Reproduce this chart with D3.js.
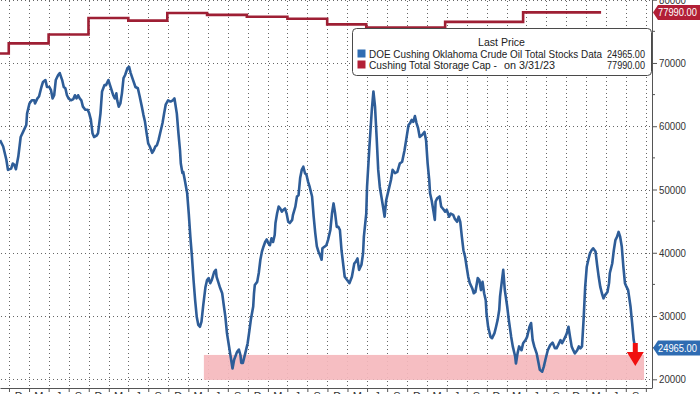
<!DOCTYPE html>
<html>
<head>
<meta charset="utf-8">
<script src="https://cdn.jsdelivr.net/npm/d3@7"></script>
<style>
  html, body { margin: 0; padding: 0; background: #fff; }
  svg { display: block; font-family: 'Liberation Sans', Arial, sans-serif; }
</style>
</head>
<body>
<svg id="chart" width="700" height="394"></svg>
<script>
// DOE Cushing stocks (thousand bbl), weekly-ish, dates as decimal years
var stockDates = [
  2015.72, 2015.76, 2015.80, 2015.82, 2015.86, 2015.88, 2015.90, 2015.92, 2015.95, 2015.98,
  2016.01, 2016.05, 2016.06, 2016.09, 2016.12, 2016.15, 2016.16, 2016.19, 2016.21, 2016.24,
  2016.26, 2016.29, 2016.31, 2016.34, 2016.36, 2016.38, 2016.40, 2016.42, 2016.45, 2016.47,
  2016.50, 2016.52, 2016.54, 2016.56, 2016.58, 2016.61, 2016.64, 2016.66, 2016.68, 2016.70,
  2016.72, 2016.74, 2016.76, 2016.79, 2016.82, 2016.84, 2016.86, 2016.88, 2016.90, 2016.93,
  2016.95, 2016.98, 2017.00, 2017.03, 2017.05, 2017.08, 2017.10, 2017.12, 2017.14, 2017.16,
  2017.18, 2017.19, 2017.21, 2017.23, 2017.25, 2017.27, 2017.29, 2017.32, 2017.34, 2017.36,
  2017.39, 2017.42, 2017.45, 2017.47, 2017.50, 2017.52, 2017.54, 2017.56, 2017.58, 2017.60,
  2017.63, 2017.65, 2017.67, 2017.69, 2017.71, 2017.73, 2017.76, 2017.78, 2017.80, 2017.83,
  2017.86, 2017.89, 2017.91, 2017.92, 2017.94, 2017.96, 2017.98, 2017.99, 2018.01, 2018.02,
  2018.04, 2018.07, 2018.09, 2018.11, 2018.13, 2018.15, 2018.17, 2018.19, 2018.21, 2018.23,
  2018.25, 2018.27, 2018.30, 2018.32, 2018.34, 2018.36, 2018.38, 2018.41, 2018.43, 2018.44,
  2018.46, 2018.48, 2018.51, 2018.53, 2018.55, 2018.57, 2018.59, 2018.61, 2018.63, 2018.64,
  2018.66, 2018.69, 2018.70, 2018.72, 2018.74, 2018.75, 2018.77, 2018.80, 2018.83, 2018.85,
  2018.87, 2018.90, 2018.91, 2018.92, 2018.95, 2018.97, 2018.99, 2019.01, 2019.03, 2019.05,
  2019.07, 2019.09, 2019.11, 2019.13, 2019.15, 2019.17, 2019.18, 2019.20, 2019.22, 2019.24,
  2019.26, 2019.28, 2019.30, 2019.32, 2019.34, 2019.36, 2019.39, 2019.40, 2019.43, 2019.45,
  2019.47, 2019.49, 2019.51, 2019.53, 2019.55, 2019.57, 2019.59, 2019.61, 2019.64, 2019.66,
  2019.68, 2019.70, 2019.72, 2019.74, 2019.76, 2019.77, 2019.80, 2019.82, 2019.84, 2019.87,
  2019.89, 2019.91, 2019.93, 2019.95, 2019.97, 2019.99, 2020.01, 2020.03, 2020.05, 2020.08,
  2020.11, 2020.14, 2020.17, 2020.19, 2020.21, 2020.23, 2020.26, 2020.28, 2020.29, 2020.32,
  2020.33, 2020.36, 2020.39, 2020.41, 2020.43, 2020.45, 2020.47, 2020.49, 2020.53, 2020.55,
  2020.57, 2020.60, 2020.63, 2020.65, 2020.68, 2020.71, 2020.74, 2020.77, 2020.80, 2020.82,
  2020.85, 2020.87, 2020.89, 2020.91, 2020.93, 2020.95, 2020.97, 2020.99, 2021.02, 2021.05,
  2021.07, 2021.09, 2021.11, 2021.12, 2021.14, 2021.16, 2021.18, 2021.19, 2021.21, 2021.24,
  2021.26, 2021.28, 2021.31, 2021.33, 2021.36, 2021.38, 2021.41, 2021.43, 2021.46, 2021.48,
  2021.50, 2021.52, 2021.54, 2021.56, 2021.58, 2021.60, 2021.62, 2021.65, 2021.67, 2021.69,
  2021.72, 2021.74, 2021.76, 2021.78, 2021.80, 2021.82, 2021.83, 2021.85, 2021.88, 2021.90,
  2021.93, 2021.95, 2021.97, 2021.99, 2022.00, 2022.02, 2022.04, 2022.06, 2022.09, 2022.11,
  2022.14, 2022.16, 2022.19, 2022.20, 2022.22, 2022.24, 2022.27, 2022.29, 2022.32, 2022.34,
  2022.37, 2022.39, 2022.41, 2022.43, 2022.46, 2022.48, 2022.50, 2022.53, 2022.55, 2022.57,
  2022.60, 2022.63, 2022.66, 2022.69, 2022.71, 2022.73, 2022.76, 2022.78, 2022.80, 2022.82,
  2022.84, 2022.86, 2022.88, 2022.90, 2022.92, 2022.94, 2022.97, 2022.99, 2023.01, 2023.03,
  2023.05, 2023.07, 2023.09, 2023.11, 2023.13, 2023.15, 2023.17, 2023.20, 2023.22, 2023.24,
  2023.26, 2023.28, 2023.30, 2023.32, 2023.35, 2023.37, 2023.38, 2023.41, 2023.43, 2023.45,
  2023.47, 2023.49, 2023.51, 2023.53, 2023.55, 2023.57, 2023.59, 2023.61, 2023.64, 2023.66,
  2023.68, 2023.70
]
var stockValues = [
  57800, 56800, 54700, 53100, 53300, 54100, 53900, 53200, 55200, 58300,
  59100, 60200, 62000, 63600, 64100, 64100, 63600, 64400, 64700, 66200,
  67000, 67300, 66200, 66200, 65700, 64400, 64900, 67300, 68100, 68400,
  67300, 66200, 66000, 64900, 64400, 64100, 64300, 64900, 64400, 64900,
  64400, 64100, 63100, 62600, 62600, 62000, 61000, 58900, 58300, 58500,
  58900, 62000, 65500, 66500, 66500, 67300, 66500, 65700, 64900, 64400,
  65200, 64100, 63100, 63600, 65200, 67600, 68100, 69200, 69400, 68400,
  67300, 66200, 66000, 64900, 63100, 61800, 60700, 58900, 57300, 56800,
  55800, 56200, 56800, 57000, 57800, 58900, 60500, 62000, 63400, 64100,
  63900, 64100, 64400, 63600, 62000, 58900, 56200, 54100, 52600, 52800,
  51500, 49400, 46200, 42500, 39400, 35700, 32500, 29900, 28600, 28300,
  29100, 31500, 34600, 35700, 36000, 35200, 35700, 37000, 37300, 36200,
  35400, 34600, 33600, 31700, 29900, 27300, 25700, 24100, 22500, 21700,
  23100, 24100, 24400, 24700, 23800, 22600, 22600, 24100, 25700, 27500,
  29400, 31500, 33600, 34900, 35400, 36800, 38900, 40200, 41000, 41700,
  42100, 41500, 41200, 42300, 41700, 42800, 44700, 46200, 47300, 47000,
  46500, 46800, 47000, 46200, 44900, 44700, 45200, 46000, 47300, 48900,
  49100, 51800, 53100, 53600, 52600, 52300, 51200, 50400, 48900, 45700,
  43100, 41000, 40200, 39600, 38900, 40700, 41000, 41200, 42000, 43600,
  46200, 47800, 46200, 44100, 44100, 43600, 40400, 38300, 36200, 35700,
  35200, 36200, 38300, 38600, 39100, 37300, 38100, 39900, 42500, 46200,
  50400, 56800, 62600, 65500, 63100, 58300, 53100, 50400, 47300, 45700,
  48300, 49900, 51500, 53100, 52600, 52800, 54100, 54400, 56200, 57800,
  60200, 60500, 61000, 60700, 61600, 60500, 59700, 58300, 58600, 59100,
  57800, 54100, 51500, 49400, 48300, 46800, 45200, 48100, 48600, 48900,
  47300, 47000, 46500, 46800, 45700, 46200, 46000, 45400, 44900, 45700,
  44900, 42500, 40400, 39400, 37800, 36200, 35200, 34400, 33600, 33800,
  36000, 35700, 34100, 35400, 33600, 32500, 30400, 28300, 26700, 26500,
  27300, 28300, 29400, 31000, 33100, 35200, 37300, 34100, 31500, 29400,
  26700, 25200, 23600, 22500, 24100, 25200, 24600, 25700, 26200, 26700,
  28300, 28900, 26200, 25200, 24100, 22800, 21500, 21200, 22000, 23100,
  24600, 25400, 25800, 24900, 24900, 25400, 26200, 25700, 26200, 26700,
  27300, 28300, 26700, 25200, 24600, 24100, 24600, 25200, 24900, 25200,
  29400, 34600, 37800, 38900, 39900, 40400, 40700, 40200, 38100, 36200,
  34600, 33600, 32800, 33300, 33800, 35200, 36800, 38300, 40400, 42000,
  42500, 43300, 42500, 41000, 37800, 35200, 34600, 34100, 31500, 28900,
  26200, 24965
]

// Cushing working storage capacity (step series), last point is the end of the line
var capDates = [2015.72, 2015.83, 2016.33, 2016.83, 2017.33, 2017.82, 2018.32, 2018.82,
  2019.33, 2019.83, 2020.32, 2021.31, 2022.29, 2023.27]
var capValues = [71500, 73100, 74500, 77100, 76700, 77900, 77600, 77300,
  77000, 76100, 75600, 76500, 77990, 77990]

// "near tank bottoms" zone
var zoneDates = [2018.28, 2023.81]
var zoneValues = [19900, 23850]

var yTicks = [20000, 30000, 40000, 50000, 60000, 70000, 80000]
var yMinorTicks = [25000, 35000, 45000, 55000, 65000, 75000]
var monthLetters = ['J', 'F', 'M', 'A', 'M', 'J', 'J', 'A', 'S', 'O', 'N', 'D']
var xStart = 2015.72, xEnd = 2023.91

var legendTitle = 'Last Price'
var seriesNames = ['DOE Cushing Oklahoma Crude Oil Total Stocks Data', 'Cushing Total Storage Cap -']
var seriesNotes = ['', 'on 3/31/23']
var lastValues = ['24965.00', '77990.00']

var blue = '#2e5d98', red = '#9e1f34'
var blueTag = '#2f6cb2', redTag = '#b21f36'

function toDate(y) {
  var yr = Math.floor(y)
  var a = new Date(yr, 0, 1), b = new Date(yr + 1, 0, 1)
  return new Date(+a + (y - yr) * (b - a))
}

var plotW = 652, plotH = 388
var svg = d3.select('#chart')

var x = d3.scaleTime().domain([toDate(xStart), toDate(xEnd)]).range([0, plotW])
var y = d3.scaleLinear().domain([20000, 80000]).range([379.3, -0.3])

var quarterTicks = d3.timeMonths(toDate(xStart), toDate(xEnd), 1)
  .filter(d => d.getMonth() % 3 === 1)

// dotted grid
var grid = svg.append('g').attr('class', 'grid')
grid.selectAll('line.v')
  .data(quarterTicks)
  .enter()
  .append('line')
  .attr('class', 'v')
  .attr('x1', d => Math.round(x(d)) + 0.5)
  .attr('x2', d => Math.round(x(d)) + 0.5)
  .attr('y1', 1)
  .attr('y2', plotH)
  .attr('stroke', '#666')
  .attr('stroke-width', 1)
  .attr('stroke-dasharray', '1,3')

grid.selectAll('line.h')
  .data(yTicks)
  .enter()
  .append('line')
  .attr('class', 'h')
  .attr('x1', 1)
  .attr('x2', plotW)
  .attr('y1', d => Math.round(y(d)) + 0.5)
  .attr('y2', d => Math.round(y(d)) + 0.5)
  .attr('stroke', '#666')
  .attr('stroke-width', 1)
  .attr('stroke-dasharray', '1,3')

// pink zone
svg.append('rect')
  .attr('x', x(toDate(zoneDates[0])))
  .attr('y', y(zoneValues[1]))
  .attr('width', x(toDate(zoneDates[1])) - x(toDate(zoneDates[0])))
  .attr('height', y(zoneValues[0]) - y(zoneValues[1]))
  .attr('fill', '#f5b8bd')
  .attr('opacity', 0.92)

// lines
var capData = capDates.map((d, i) => ({ date: toDate(d), value: capValues[i] }))
var stockData = stockDates.map((d, i) => ({ date: toDate(d), value: stockValues[i] }))

svg.append('path')
  .datum(capData)
  .attr('fill', 'none')
  .attr('stroke', red)
  .attr('stroke-width', 2.6)
  .attr('d', d3.line().x(d => x(d.date)).y(d => y(d.value)).curve(d3.curveStepAfter))

svg.append('path')
  .datum(stockData)
  .attr('fill', 'none')
  .attr('stroke', blue)
  .attr('stroke-width', 2.6)
  .attr('stroke-linejoin', 'round')
  .attr('d', d3.line().x(d => x(d.date)).y(d => y(d.value)))

// red arrow at the end of the blue line
var last = stockData[stockData.length - 1]
var ax = x(last.date), ay = y(last.value)
svg.append('path')
  .attr('d', 'M' + (ax - 2.5) + ',' + (ay - 5) + 'V' + (ay + 4) + 'H' + (ax - 8.5) +
    'L' + ax + ',' + (ay + 18) + 'L' + (ax + 8.5) + ',' + (ay + 4) + 'H' + (ax + 2.5) +
    'V' + (ay - 5) + 'Z')
  .attr('fill', '#f01010')

// bottom axis
var xAxis = svg.append('g')
  .attr('transform', 'translate(0,' + plotH + ')')
  .call(d3.axisBottom(x).tickValues(quarterTicks).tickFormat('').tickSize(4).tickSizeOuter(0))
xAxis.select('.domain').attr('stroke', '#555')
xAxis.selectAll('.tick line').attr('stroke', '#555')

svg.append('g')
  .selectAll('text')
  .data(quarterTicks.map(d => d3.timeDay.offset(d, 45)).filter(d => x(d) < plotW))
  .enter()
  .append('text')
  .attr('x', d => x(d))
  .attr('y', 400)
  .attr('text-anchor', 'middle')
  .attr('font-size', 11)
  .attr('fill', '#333')
  .text(d => monthLetters[d.getMonth()])

// right axis
var yAxis = svg.append('g')
  .attr('transform', 'translate(' + plotW + ',0)')
  .call(d3.axisRight(y).tickValues(yTicks).tickSize(5).tickPadding(2).tickFormat(d3.format('d')))
yAxis.select('.domain').attr('stroke', '#555').attr('d', 'M0.5,0V' + plotH)
yAxis.selectAll('.tick line').attr('stroke', '#555')
yAxis.selectAll('.tick text')
  .attr('font-size', 11)
  .attr('fill', '#333')
  .attr('font-family', "'Liberation Sans', Arial, sans-serif")
  .attr('textLength', 27)
  .attr('lengthAdjust', 'spacingAndGlyphs')

svg.append('g')
  .attr('transform', 'translate(' + plotW + ',0)')
  .selectAll('line')
  .data(yMinorTicks)
  .enter()
  .append('line')
  .attr('x1', 0)
  .attr('x2', 3)
  .attr('y1', d => y(d))
  .attr('y2', d => y(d))
  .attr('stroke', '#555')

// last value tags
function tag(value, text, color) {
  var cy = y(value), h = 15
  var g = svg.append('g')
  g.append('path')
    .attr('d', 'M' + (plotW + 1) + ',' + cy + 'L' + (plotW + 6) + ',' + (cy - h / 2) +
      'H700V' + (cy + h / 2) + 'H' + (plotW + 6) + 'Z')
    .attr('fill', color)
  g.append('text')
    .attr('x', 658)
    .attr('y', cy + 4)
    .attr('font-size', 11)
    .attr('fill', '#fff')
    .attr('textLength', 39)
    .attr('lengthAdjust', 'spacingAndGlyphs')
    .text(text)
}
tag(77990, lastValues[1], redTag)
tag(24965, lastValues[0], blueTag)

// legend
var lg = svg.append('g')
lg.append('rect')
  .attr('x', 352.5)
  .attr('y', 28.5)
  .attr('width', 299)
  .attr('height', 47)
  .attr('rx', 4)
  .attr('fill', '#fff')
  .attr('stroke', '#4a4a4a')

function ltext(tx, ty, str, len) {
  return lg.append('text')
    .attr('x', tx)
    .attr('y', ty)
    .attr('font-size', 11)
    .attr('fill', '#222')
    .attr('textLength', len)
    .attr('lengthAdjust', 'spacingAndGlyphs')
    .text(str)
}

ltext(478, 46, legendTitle, 47)

var legendColors = [blueTag, redTag]
var nameLens = [233, 128]
seriesNames.forEach(function(name, i) {
  var by = 57.5 + i * 11
  lg.append('rect')
    .attr('x', 357.5)
    .attr('y', by - 8)
    .attr('width', 8)
    .attr('height', 8)
    .attr('fill', legendColors[i])
  ltext(369, by, name, nameLens[i])
  if (seriesNotes[i]) ltext(504, by, seriesNotes[i], 51)
  ltext(607, by, lastValues[i], 38)
})
</script>
</body>
</html>
